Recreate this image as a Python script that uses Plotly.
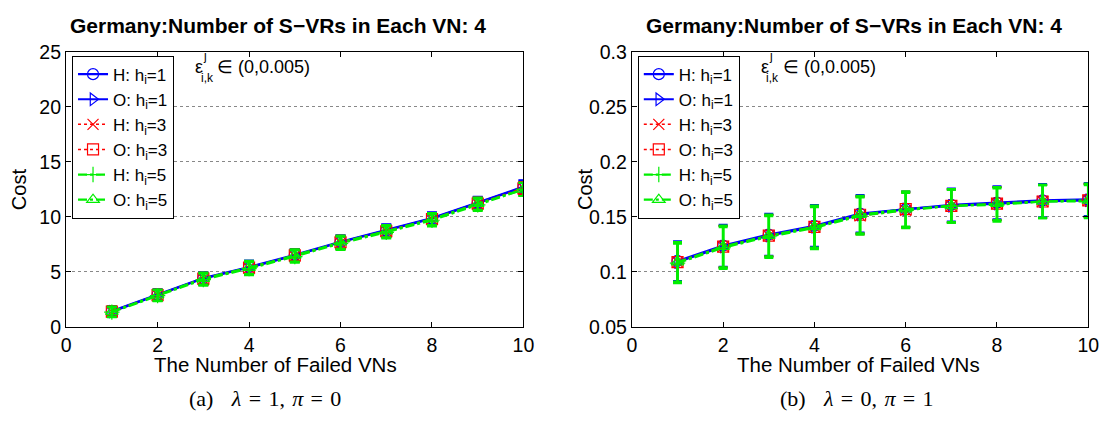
import plotly.graph_objects as go

# Number of failed VNs
failed_vns = [1, 2, 3, 4, 5, 6, 7, 8, 9, 10]

# (a) lambda=1, pi=0 : mean cost and error per series
cost_a_h1 = [1.45, 2.95, 4.45, 5.45, 6.55, 7.75, 8.80, 9.90, 11.30, 12.75]
cost_a_o1 = [1.40, 2.90, 4.40, 5.40, 6.50, 7.70, 8.75, 9.85, 11.25, 12.70]
cost_a_h3 = [1.40, 2.90, 4.35, 5.35, 6.45, 7.65, 8.70, 9.80, 11.20, 12.60]
cost_a_o3 = [1.40, 2.90, 4.40, 5.40, 6.50, 7.70, 8.70, 9.80, 11.20, 12.60]
cost_a_h5 = [1.35, 2.85, 4.30, 5.30, 6.40, 7.60, 8.60, 9.70, 11.10, 12.50]
cost_a_o5 = [1.40, 2.90, 4.40, 5.40, 6.50, 7.70, 8.70, 9.80, 11.20, 12.50]
err_a = [0.45, 0.50, 0.55, 0.60, 0.55, 0.60, 0.55, 0.55, 0.55, 0.60]

# (b) lambda=0, pi=1
cost_b_h1 = [0.110, 0.124, 0.134, 0.142, 0.153, 0.157, 0.161, 0.163, 0.165, 0.166]
cost_b_o1 = [0.109, 0.123, 0.133, 0.141, 0.152, 0.157, 0.160, 0.162, 0.164, 0.165]
cost_b_h3 = [0.109, 0.123, 0.133, 0.141, 0.151, 0.156, 0.160, 0.162, 0.164, 0.165]
cost_b_o3 = [0.109, 0.123, 0.133, 0.141, 0.152, 0.157, 0.160, 0.162, 0.164, 0.165]
cost_b_h5 = [0.108, 0.122, 0.132, 0.140, 0.151, 0.156, 0.160, 0.161, 0.164, 0.164]
cost_b_o5 = [0.109, 0.123, 0.133, 0.141, 0.152, 0.157, 0.160, 0.162, 0.164, 0.165]
err_b = [0.018, 0.019, 0.019, 0.019, 0.017, 0.016, 0.015, 0.015, 0.015, 0.015]

series_names = ["H: h<sub>i</sub>=1", "O: h<sub>i</sub>=1", "H: h<sub>i</sub>=3",
                "O: h<sub>i</sub>=3", "H: h<sub>i</sub>=5", "O: h<sub>i</sub>=5"]

title_text = "Germany:Number of S\u2212VRs in Each VN: 4"
x_title = "The Number of Failed VNs"
SP, GAP = "\u2004", "\u2002\u2004"
captions = [
    f"(a){GAP}<i>\u03bb</i>{SP}={SP}1,{SP}<i>\u03c0</i>{SP}={SP}0",
    f"(b){GAP}<i>\u03bb</i>{SP}={SP}0,{SP}<i>\u03c0</i>{SP}={SP}1",
]

BLUE = "#0000ff"
RED = "#ff0000"
GREEN = "#00ee00"

styles = [
    dict(color=BLUE, dash="solid", symbol="circle-open", lw=2.2),
    dict(color=BLUE, dash="solid", symbol="triangle-right-open", lw=2.2),
    dict(color=RED, dash="dot", symbol="x-thin-open", lw=1.5),
    dict(color=RED, dash="dot", symbol="square-open", lw=1.5),
    dict(color=GREEN, dash="dashdot", symbol="cross-thin-open", lw=2.2),
    dict(color=GREEN, dash="dashdot", symbol="triangle-up-open", lw=2.2),
]

W, H = 1117, 431
FONT = "Liberation Sans, Arial, Helvetica, sans-serif"


def px_x(p):
    return p / W


def px_y(p):
    return 1 - p / H


fig = go.Figure()

panels = [
    dict(xa="x", ya="y", legend="legend",
         data=[cost_a_h1, cost_a_o1, cost_a_h3, cost_a_o3, cost_a_h5, cost_a_o5],
         err=err_a, ew=[1.6, 1.6, 1.6, 1.6, 2.2, 2.2], cap=5),
    dict(xa="x2", ya="y2", legend="legend2",
         data=[cost_b_h1, cost_b_o1, cost_b_h3, cost_b_o3, cost_b_h5, cost_b_o5],
         err=err_b, ew=[1.6, 1.6, 1.6, 1.6, 2.6, 2.6], cap=4.5),
]

for p_idx, panel in enumerate(panels):
    for s_idx, (name, vals, st, ew) in enumerate(
            zip(series_names, panel["data"], styles, panel["ew"])):
        fig.add_trace(go.Scatter(
            x=failed_vns, y=vals, name=name, mode="lines+markers",
            xaxis=panel["xa"], yaxis=panel["ya"], legend=panel["legend"],
            legendgroup=f"p{p_idx}s{s_idx}",
            line=dict(color=st["color"], dash=st["dash"], width=st["lw"]),
            marker=dict(symbol=st["symbol"], size=11, color=st["color"],
                        line=dict(color=st["color"], width=1.2)),
            error_y=dict(type="data", array=panel["err"], color=st["color"],
                         thickness=ew, width=panel["cap"]),
        ))

axis_common = dict(
    showline=True, linecolor="black", linewidth=1.3, mirror="allticks",
    ticks="inside", ticklen=5, tickcolor="black", tickwidth=1.2,
    tickfont=dict(family=FONT, size=19.5, color="black"),
    zeroline=False,
)

left_px = [62, 636]
right_px = [526, 1099]
top_px, bottom_px = 43, 333

fig.update_layout(
    width=W, height=H, margin=dict(l=0, r=0, t=0, b=0),
    paper_bgcolor="white", plot_bgcolor="white",
    font=dict(family=FONT, color="black"),
    xaxis=dict(domain=[px_x(left_px[0]), px_x(right_px[0])], range=[0, 10], dtick=2,
               showgrid=False, anchor="y", **axis_common),
    yaxis=dict(domain=[px_y(bottom_px), px_y(top_px)], range=[0, 25], dtick=5,
               showgrid=True, gridcolor="#888888", griddash="dot", gridwidth=1,
               anchor="x", **axis_common),
    xaxis2=dict(domain=[px_x(left_px[1]), px_x(right_px[1])], range=[0, 10], dtick=2,
                showgrid=False, anchor="y2", **axis_common),
    yaxis2=dict(domain=[px_y(bottom_px), px_y(top_px)], range=[0.05, 0.3], dtick=0.05,
                showgrid=True, gridcolor="#888888", griddash="dot", gridwidth=1,
                anchor="x2", **axis_common),
    showlegend=True,
)

legend_common = dict(
    bgcolor="white", bordercolor="black", borderwidth=1,
    font=dict(family=FONT, size=17, color="black"),
    xanchor="left", yanchor="top", itemwidth=30, tracegroupgap=0,
)
fig.update_layout(
    legend=dict(x=px_x(left_px[0] + 6), y=px_y(top_px + 4), **legend_common),
    legend2=dict(x=px_x(left_px[1] + 6), y=px_y(top_px + 4), **legend_common),
)


def label(text, x, y, size, xanchor="center", family=FONT, angle=0):
    return dict(text=text, x=px_x(x), y=px_y(y), xref="paper", yref="paper",
                showarrow=False, xanchor=xanchor, yanchor="middle", textangle=angle,
                font=dict(family=family, size=size, color="black"))


title_shift = [-17, -6]
xtitle_shift = [-20, -2]
caption_shift = [-30, -3]

annotations = []
for i in range(2):
    lx, rx = left_px[i], right_px[i]
    cx = (lx + rx) / 2
    # panel title
    annotations.append(label("<b>" + title_text + "</b>", cx + title_shift[i], 15, 21))
    # x-axis title
    annotations.append(label(x_title, cx + xtitle_shift[i], 373, 20.5))
    # y-axis title
    annotations.append(label("Cost", lx - 47, 188, 20, angle=-90))
    # sub-figure caption
    annotations.append(label(captions[i], cx + caption_shift[i], 408, 22,
                             family="Liberation Serif, DejaVu Serif, serif"))
    # epsilon range label
    ex = lx + 135
    annotations.append(label("\u03b5", ex, 59, 18))
    annotations.append(label("j", ex + 6, 47, 12))
    annotations.append(label("i,k", ex + 8, 71, 12))
    annotations.append(label("\u2208 (0,0.005)", ex + 16, 59, 18, xanchor="left"))

fig.update_layout(annotations=annotations)

fig.write_html("out.html")
